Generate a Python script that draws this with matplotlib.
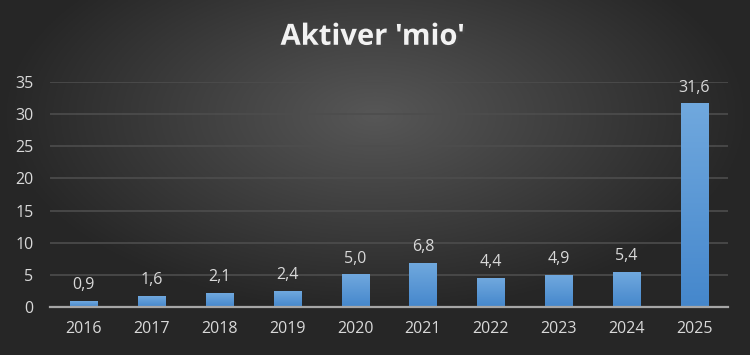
import numpy as np
import matplotlib.pyplot as plt
import matplotlib.patheffects as pe

years = ['2016', '2017', '2018', '2019', '2020', '2021', '2022', '2023', '2024', '2025']
values = [0.9, 1.6, 2.1, 2.4, 5.0, 6.8, 4.4, 4.9, 5.4, 31.6]
yticks = [0, 5, 10, 15, 20, 25, 30, 35]
title = "Aktiver 'mio'"

plt.rcParams['font.family'] = ['Open Sans', 'DejaVu Sans']
txt = '#d9d9d9'

fig = plt.figure(figsize=(7.5, 3.55), dpi=100)

# radial dark background
bg = fig.add_axes([0, 0, 1, 1])
gx, gy = np.meshgrid(np.linspace(-1, 1, 400), np.linspace(-1, 1, 200))
r = np.sqrt(gx ** 2 + ((gy + 0.35) * 0.9) ** 2)
shade = np.clip(0.34 - 0.19 * r, 0.15, 0.34)
bg.imshow(np.dstack([shade] * 3), extent=[0, 1, 0, 1], aspect='auto', origin='upper')
bg.axis('off')

ax = fig.add_axes([0.0667, 0.135, 0.904, 0.634])
ax.patch.set_alpha(0)
x = np.arange(len(years))
bars = ax.bar(x, values, width=0.4, color='#5b9bd5', zorder=3)

# vertical gradient on each bar
grad = np.linspace(0, 1, 100).reshape(-1, 1)
top = np.array([0.44, 0.66, 0.87])
bot = np.array([0.27, 0.53, 0.80])
cols = top + (bot - top) * grad[..., None]
for b in bars:
    x0, w, h = b.get_x(), b.get_width(), b.get_height()
    ax.imshow(cols, extent=[x0, x0 + w, 0, h], aspect='auto', origin='upper', zorder=4)
    b.set_path_effects([pe.SimpleLineShadow(offset=(2, -1), alpha=0.35), pe.Normal()])

for xi, v in zip(x, values):
    ax.annotate(('%.1f' % v).replace('.', ','), (xi, v), xytext=(0, 6), textcoords='offset points',
                ha='center', va='bottom', color=txt, fontsize=11.5, zorder=5)

ax.set_xlim(-0.5, len(years) - 0.5)
ax.set_ylim(0, 35)
ax.set_yticks(yticks)
ax.set_xticks(x)
ax.set_xticklabels(years)
ax.tick_params(axis='both', length=0, colors=txt, labelsize=11.5)
ax.tick_params(axis='x', pad=10)
ax.tick_params(axis='y', pad=12)
ax.grid(axis='y', color='#4d4d4d', linewidth=1.2, zorder=1)
for s in ['top', 'right', 'left']:
    ax.spines[s].set_visible(False)
ax.spines['bottom'].set_color('#a6a6a6')
ax.spines['bottom'].set_linewidth(1.6)
ax.spines['bottom'].set_zorder(6)

fig.text(0.497, 0.895, title, ha='center', va='center', color='#f2f2f2', fontsize=21,
         fontweight='bold',
         path_effects=[pe.withSimplePatchShadow(offset=(1.5, -1.5), alpha=0.6)])

plt.savefig('out.png', dpi=100)
